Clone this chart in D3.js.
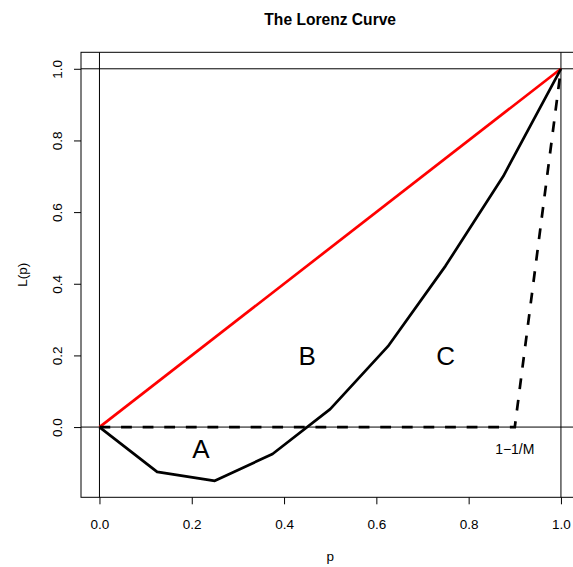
<!DOCTYPE html>
<html>
<head>
<meta charset="utf-8">
<script src="https://cdn.jsdelivr.net/npm/d3@7"></script>
<style>
  body { margin: 0; background: #fff; }
  svg text { font-family: "Liberation Sans", Arial, Helvetica, sans-serif; fill: #000; }
</style>
</head>
<body>
<script>
'use strict';

// Lorenz curve points
var popShare = [0, 0.125, 0.25, 0.375, 0.5, 0.625, 0.75, 0.875, 1];
var incShare = [0, -0.125, -0.15, -0.075, 0.05, 0.225, 0.45, 0.7, 1];

// line of perfect equality and maximal inequality
var eqP = [0, 1], eqL = [0, 1];
var maxP = [0, 0.9, 1], maxL = [0, 0, 1];

var tickVals = [0, 0.2, 0.4, 0.6, 0.8, 1.0];
var areaText = ["A", "B", "C"],
    areaX = [0.22, 0.45, 0.75],
    areaY = [-0.06, 0.2, 0.2];
var noteText = "1\u22121/M", noteX = 0.9, noteY = -0.06;

var width = 573, height = 567,
    plotLeft = 81, plotRight = 579.4, plotTop = 52.3, plotBottom = 497.3;

// R style 4% padding of the ranges
function pad(lo, hi) { var r = hi - lo; return [lo - 0.04 * r, hi + 0.04 * r]; }

var x = d3.scaleLinear()
  .domain(pad(0, 1))
  .range([plotLeft, plotRight]);

var y = d3.scaleLinear()
  .domain(pad(d3.min(incShare), 1))
  .range([plotBottom, plotTop]);

var svg = d3.select("body").append("svg")
  .attr("width", width)
  .attr("height", height);

// reference lines (abline)
svg.append("line").attr("x1", plotLeft).attr("x2", plotRight)
  .attr("y1", y(0)).attr("y2", y(0)).attr("stroke", "#000");
svg.append("line").attr("x1", plotLeft).attr("x2", plotRight)
  .attr("y1", y(1)).attr("y2", y(1)).attr("stroke", "#000");
svg.append("line").attr("y1", plotTop).attr("y2", plotBottom)
  .attr("x1", x(0)).attr("x2", x(0)).attr("stroke", "#000");
svg.append("line").attr("y1", plotTop).attr("y2", plotBottom)
  .attr("x1", x(1)).attr("x2", x(1)).attr("stroke", "#000");

var line = d3.line()
  .x(function(d) { return x(d[0]); })
  .y(function(d) { return y(d[1]); });

svg.append("path")
  .datum(d3.zip(eqP, eqL))
  .attr("d", line)
  .attr("fill", "none")
  .attr("stroke", "#ff0000")
  .attr("stroke-width", 2.7);

svg.append("path")
  .datum(d3.zip(maxP, maxL))
  .attr("d", line)
  .attr("fill", "none")
  .attr("stroke", "#000")
  .attr("stroke-width", 2.7)
  .attr("stroke-dasharray", "10.8,10.8");

svg.append("path")
  .datum(d3.zip(popShare, incShare))
  .attr("d", line)
  .attr("fill", "none")
  .attr("stroke", "#000")
  .attr("stroke-width", 2.7)
  .attr("stroke-linejoin", "round");

// box
svg.append("rect")
  .attr("x", plotLeft).attr("y", plotTop)
  .attr("width", plotRight - plotLeft).attr("height", plotBottom - plotTop)
  .attr("fill", "none").attr("stroke", "#000");

// axes
var xAxis = svg.append("g")
  .attr("transform", "translate(0," + plotBottom + ")")
  .call(d3.axisBottom(x).tickValues(tickVals).tickSize(7).tickFormat(d3.format(".1f")));
xAxis.select(".domain").remove();
xAxis.selectAll("text").attr("font-size", 13.5).attr("dy", null).attr("y", 32);

var yAxis = svg.append("g")
  .attr("transform", "translate(" + plotLeft + ",0)")
  .call(d3.axisLeft(y).tickValues(tickVals).tickSize(7).tickFormat(d3.format(".1f")));
yAxis.select(".domain").remove();
yAxis.selectAll("text")
  .attr("font-size", 13.5)
  .attr("x", null).attr("dy", null)
  .attr("text-anchor", "middle")
  .attr("transform", "translate(-19.5,0) rotate(-90)");

// text annotations
svg.selectAll("text.area")
  .data(areaText)
  .enter().append("text")
  .attr("class", "area")
  .attr("x", function(d, i) { return x(areaX[i]); })
  .attr("y", function(d, i) { return y(areaY[i]); })
  .attr("dy", "0.36em")
  .attr("text-anchor", "middle")
  .attr("font-size", 26)
  .text(function(d) { return d; });

svg.append("text")
  .attr("x", x(noteX)).attr("y", y(noteY))
  .attr("dy", "0.36em")
  .attr("text-anchor", "middle")
  .attr("font-size", 14)
  .text(noteText);

// titles
svg.append("text")
  .attr("x", (plotLeft + plotRight) / 2).attr("y", 24.5)
  .attr("text-anchor", "middle")
  .attr("font-size", 15.6)
  .attr("font-weight", "bold")
  .text("The Lorenz Curve");

svg.append("text")
  .attr("x", (plotLeft + plotRight) / 2).attr("y", 561)
  .attr("text-anchor", "middle")
  .attr("font-size", 13.5)
  .text("p");

svg.append("text")
  .attr("transform", "translate(26.5," + (plotTop + plotBottom) / 2 + ") rotate(-90)")
  .attr("text-anchor", "middle")
  .attr("font-size", 13.5)
  .text("L(p)");
</script>
</body>
</html>
